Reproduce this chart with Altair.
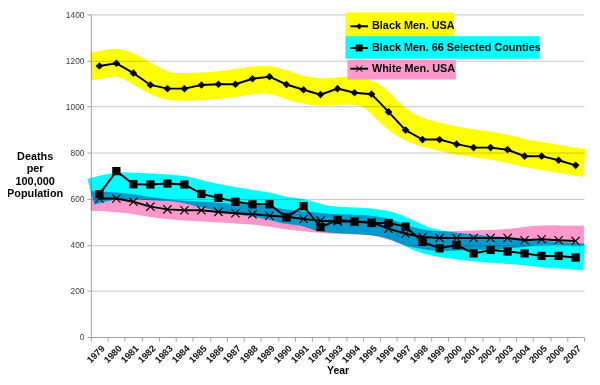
import altair as alt
import pandas as pd

years = [str(y) for y in range(1979, 2008)]

black_usa = [1176, 1188, 1145, 1094, 1078, 1078, 1094, 1097, 1097, 1121, 1130, 1096, 1073, 1052, 1078,
             1060, 1054, 977, 898, 857, 857, 837, 822, 822, 813, 785, 785, 767, 745]
black_66 = [620, 720, 663, 662, 666, 662, 621, 604, 587, 576, 576, 519, 568, 477, 508,
            501, 495, 495, 479, 413, 385, 399, 363, 378, 371, 363, 352, 352, 345]
white_usa = [601, 601, 587, 566, 554, 550, 550, 543, 537, 533, 526, 522, 512, 505, 502,
             500, 498, 470, 448, 434, 430, 430, 430, 430, 430, 420, 424, 420, 417]

# centre lines of the hand-drawn highlighter strokes behind each series,
# read at the left plot edge, at each year, and at the right plot edge
band_x = [1978.5] + list(range(1979, 2008)) + [2007.5]
band_yellow = [1175, 1177, 1200, 1166, 1120, 1085, 1085, 1087, 1094, 1102, 1114, 1120, 1095, 1070, 1060, 1069,
               1069, 1058, 975, 915, 886, 869, 851, 841, 832, 816, 798, 784, 774, 759, 755]
band_cyan = [630, 640, 660, 655, 652, 648, 642, 620, 605, 592, 580, 570, 545, 545, 512, 508,
             505, 500, 490, 460, 420, 405, 395, 385, 380, 375, 370, 360, 355, 350, 348]
band_pink = [590, 590, 585, 578, 563, 554, 548, 544, 540, 535, 532, 522, 510, 502, 495, 490,
             488, 485, 470, 440, 422, 415, 418, 420, 422, 425, 435, 442, 442, 440, 440]

series_names = ["Black Men. USA", "Black Men. 66 Selected Counties", "White Men. USA"]

FONT = "Liberation Sans"

def df_of(vals, name):
    return pd.DataFrame({"year": years, "value": vals, "series": name})

x_enc = alt.X("year:O", bandPosition=0.5,
              scale=alt.Scale(type="band", paddingInner=0, paddingOuter=0),
              axis=alt.Axis(title="Year", labelAngle=-45, labelFontSize=9.5, labelFontWeight="bold",
                            labelColor="#111", labelFont=FONT, tickBand="extent", tickSize=4,
                            tickColor="#a0a0a0", domainColor="#a0a0a0", labelPadding=2,
                            titleFont=FONT, titleFontSize=10.5, titleFontWeight="bold",
                            titleColor="#000", titleBaseline="middle", titleY=34, grid=False))
y_scale = alt.Scale(domain=[0, 1400], nice=False)
y_axis = alt.Axis(values=list(range(0, 1401, 200)), format="d", labelFontSize=8.5,
                  labelFont=FONT, labelColor="#404040", tickSize=4, tickColor="#a0a0a0",
                  domainColor="#a0a0a0", gridColor="#c8c8c8", labelPadding=3,
                  title=["Deaths", "per", "100,000", "Population"], titleAngle=0,
                  titleAlign="center", titleBaseline="top", titleX=-57, titleY=138,
                  titleFont=FONT, titleFontSize=11, titleFontWeight="bold",
                  titleColor="#000", titleLineHeight=12.6)
y_enc = alt.Y("value:Q", scale=y_scale, axis=y_axis)

def band(vals, color, width):
    d = pd.DataFrame({"bx": band_x, "value": vals})
    return alt.Chart(d).mark_line(
        color=color, strokeWidth=width, interpolate="basis", strokeCap="butt",
        blend="multiply"
    ).encode(x=alt.X("bx:Q", scale=alt.Scale(domain=[1978.5, 2007.5], nice=False, zero=False),
                     axis=None),
             y=y_enc)

def series(vals, name, shape, size, filled):
    d = df_of(vals, name)
    line = alt.Chart(d).mark_line(color="black", strokeWidth=2).encode(x=x_enc, y=y_enc)
    pts = alt.Chart(d).mark_point(shape=shape, size=size, filled=filled, color="black",
                                  opacity=1, strokeWidth=1.2).encode(x=x_enc, y=y_enc)
    return line + pts

X_PATH = "M-1,-1L1,1M-1,1L1,-1"

bands = alt.layer(
    band(band_yellow, "#FFFF00", 28),
    band(band_cyan, "#00FFFF", 27),
    band(band_pink, "#FF99CC", 20),
)

main_layers = [
    series(black_usa, series_names[0], "diamond", 60, True),
    series(black_66, series_names[1], "square", 70, True),
    series(white_usa, series_names[2], X_PATH, 70, False),
]

# legend with highlighter backgrounds
legend_rows = [
    (series_names[0], "#FFFF00", (258, 368, -2, 23), 12, "diamond", 40, True),
    (series_names[1], "#00FFFF", (258, 455, 22, 45), 34, "square", 50, True),
    (series_names[2], "#FF99CC", (260, 370, 46, 66), 55, X_PATH, 40, False),
]
for name, col, (rx1, rx2, ry1, ry2), ty, shape, size, filled in legend_rows:
    ld = alt.Data(values=[{"label": name}])
    bg = alt.Chart(ld).mark_rect(color=col).encode(
        x=alt.value(rx1), x2=alt.value(rx2), y=alt.value(ry1), y2=alt.value(ry2))
    ln = alt.Chart(ld).mark_rule(color="black", strokeWidth=2).encode(
        x=alt.value(263), x2=alt.value(281), y=alt.value(ty))
    mk = alt.Chart(ld).mark_point(shape=shape, size=size, filled=filled, color="black",
                                  opacity=1, strokeWidth=1).encode(x=alt.value(272), y=alt.value(ty))
    tx = alt.Chart(ld).mark_text(align="left", baseline="middle", font=FONT, fontSize=11,
                                 fontWeight="bold", color="#000").encode(
        x=alt.value(285), y=alt.value(ty), text="label:N")
    main_layers += [bg, ln, mk, tx]

main = alt.layer(*main_layers)

chart = alt.layer(bands, main).resolve_scale(x="independent").properties(
    width=500, height=327,
    autosize=alt.AutoSizeParams(type="none"),
    padding={"left": 84, "top": 4, "right": 8, "bottom": 38},
    background="white",
).configure_view(stroke=None)

chart.save("out.html", embed_options={"renderer": "svg", "actions": False})
